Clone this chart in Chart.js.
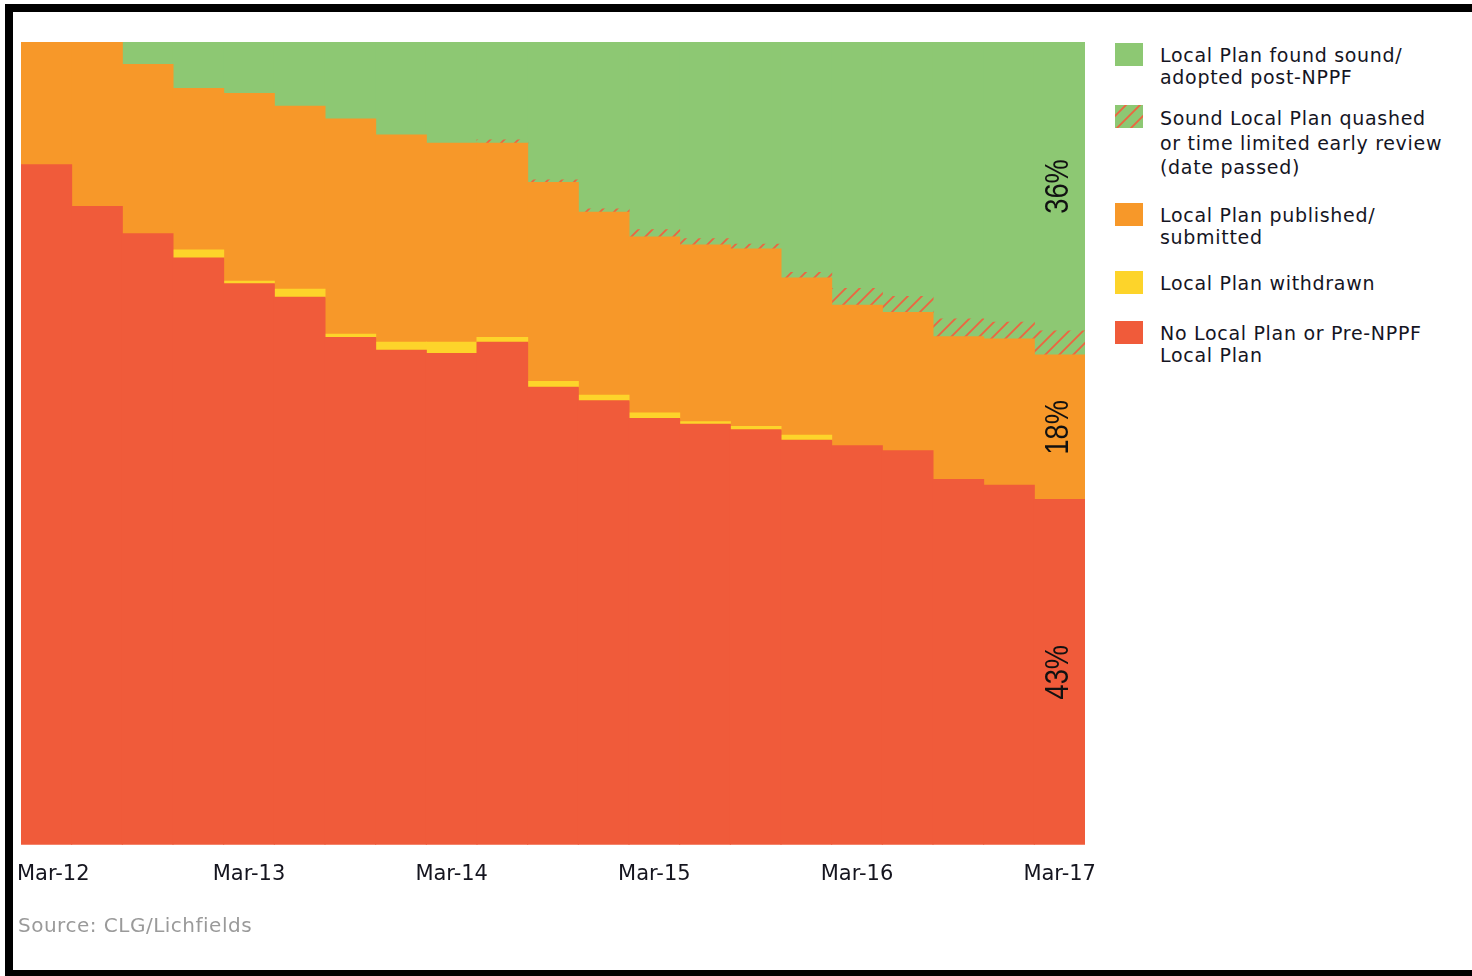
<!DOCTYPE html>
<html>
<head>
<meta charset="utf-8">
<script src="https://cdn.jsdelivr.net/npm/chart.js@4.4.1/dist/chart.umd.min.js"></script>
<style>
  html, body { margin: 0; padding: 0; background: #fff; width: 1472px; height: 976px; overflow: hidden; }
  #frame { position: absolute; left: 5px; top: 4px; width: 1500px; height: 974px; box-sizing: border-box;
           border: 8px solid #000; border-right: none; }
  #wrap { position: absolute; left: 0; top: 0; width: 1100px; height: 918px; }
  #legend { position: absolute; left: 1115px; top: 0; font-family: 'DejaVu Sans', sans-serif; font-size: 19px;
            letter-spacing: 0.7px; color: #15151f; }
  .item { position: absolute; left: 0; white-space: nowrap; }
  .sw { position: absolute; left: 0; top: 0; width: 28px; height: 23px; }
  .txt { position: absolute; left: 45px; top: 1px; line-height: 22px; }
  #source { position: absolute; left: 18px; top: 913px; font-family: 'DejaVu Sans', sans-serif; font-size: 20px;
            letter-spacing: 0.5px; color: #9a9a9a; }
</style>
</head>
<body>
<div id="frame"></div>
<div id="wrap"><canvas id="chart"></canvas></div>
<div id="legend"></div>
<div id="source">Source: CLG/Lichfields</div>
<script>
// Quarterly snapshots, Mar-12 to Mar-17 (share of authorities, %)
const quarters = ["Mar-12","Jun-12","Sep-12","Dec-12","Mar-13","Jun-13","Sep-13","Dec-13","Mar-14","Jun-14","Sep-14",
                  "Dec-14","Mar-15","Jun-15","Sep-15","Dec-15","Mar-16","Jun-16","Sep-16","Dec-16","Mar-17"];
const noPlan    = [84.7,79.5,76.1,73.1,69.9,68.2,63.2,61.6,61.2,62.6,57.0,55.3,53.1,52.4,51.7,50.4,49.7,49.1,45.5,44.8,43];
const withdrawn = [null,null,null,1.0,0.3,1.0,0.4,1.0,1.4,0.6,0.7,0.7,0.7,0.3,0.4,0.6,null,null,null,null,null];
const published = [15.3,20.5,21.1,20.1,23.4,22.8,26.8,25.8,24.8,24.2,24.8,22.8,21.9,22.0,22.1,19.6,17.5,17.2,17.8,18.2,18];
const quashed   = [null,null,null,null,null,null,null,null,null,0.4,0.3,0.4,0.9,0.8,0.6,0.7,2.1,2.0,2.2,2.1,3];
const sound     = [null,null,2.8,5.8,6.4,8.0,9.6,11.6,12.6,12.2,17.2,20.8,23.4,24.5,25.2,28.7,30.7,31.7,34.5,34.9,36];

const seriesNames = [
  ["No Local Plan or Pre-NPPF", "Local Plan"],
  ["Local Plan withdrawn"],
  ["Local Plan published/", "submitted"],
  ["Sound Local Plan quashed", "or time limited early review", "(date passed)"],
  ["Local Plan found sound/", "adopted post-NPPF"]
];

const GREEN = '#8DC873', ORANGE = '#F79829', RED = '#F05B3A', YELLOW = '#FDD42A', HATCH = '#EE6440';
const TICK_FONT = { family: "'DejaVu Sans', sans-serif", size: 21 };

// Diagonal hatch tile: red strokes over the green fill
function hatchTile() {
  const s = 14;
  const c = document.createElement('canvas');
  c.width = s; c.height = s;
  const g = c.getContext('2d');
  g.fillStyle = GREEN; g.fillRect(0, 0, s, s);
  g.strokeStyle = HATCH; g.lineWidth = 1.8; g.lineCap = 'square';
  g.beginPath();
  g.moveTo(0, s); g.lineTo(s, 0);
  g.moveTo(-2, 2); g.lineTo(2, -2);
  g.moveTo(s - 2, s + 2); g.lineTo(s + 2, s - 2);
  g.stroke();
  return c;
}
const tile = hatchTile();
const ctx = document.getElementById('chart').getContext('2d');
const hatchPattern = ctx.createPattern(tile, 'repeat');

const fills = [RED, YELLOW, ORANGE, hatchPattern, GREEN];
const values = [noPlan, withdrawn, published, quashed, sound];
const labelledSeries = [0, 2, 4];

// Legend, top to bottom: green, hatch, orange, yellow, red
const legendTops = [43, 105, 203, 271, 321];
const legendLineHeights = [22, 24.5, 22, 22, 22];
const legend = document.getElementById('legend');
[4, 3, 2, 1, 0].forEach((si, k) => {
  const item = document.createElement('div');
  item.className = 'item';
  item.style.top = legendTops[k] + 'px';
  const sw = document.createElement('div');
  sw.className = 'sw';
  if (si === 3) {
    sw.style.backgroundImage = 'url(' + tile.toDataURL() + ')';
    sw.style.backgroundPosition = '-3px 0';
  } else {
    sw.style.background = fills[si];
  }
  const tx = document.createElement('div');
  tx.className = 'txt';
  tx.style.lineHeight = legendLineHeights[k] + 'px';
  tx.innerHTML = seriesNames[si].join('<br>');
  item.appendChild(sw); item.appendChild(tx);
  legend.appendChild(item);
});

// Rotated share labels on the final column
const shareLabels = {
  id: 'shareLabels',
  afterDatasetsDraw(chart) {
    const c = chart.ctx;
    const last = quarters.length - 1;
    labelledSeries.forEach(i => {
      const el = chart.getDatasetMeta(i).data[last];
      const v = chart.data.datasets[i].data[last];
      c.save();
      c.translate(el.x - 1, (el.y + el.base) / 2);
      c.rotate(-Math.PI / 2);
      c.scale(0.8, 1);
      c.font = '34px "Liberation Sans", Arial, sans-serif';
      c.fillStyle = '#111';
      c.textAlign = 'center';
      c.textBaseline = 'middle';
      c.fillText(Math.round(v) + '%', 0, 0);
      c.restore();
    });
  }
};

// Keep the first axis label clear of the left frame
const firstLabelInset = {
  id: 'firstLabelInset',
  beforeDraw(chart) {
    const items = chart.scales.x.getLabelItems();
    const first = items.find(it => it.label);
    if (!first) return;
    const c = chart.ctx;
    c.save();
    c.font = TICK_FONT.size + 'px ' + TICK_FONT.family;
    const w = c.measureText(first.label).width;
    c.restore();
    const left = first.options.translation[0] - w / 2;
    if (left < 17) first.options.translation[0] += 17 - left;
  }
};

new Chart(ctx, {
  type: 'bar',
  data: {
    labels: quarters,
    datasets: values.map((d, i) => ({
      label: seriesNames[i].join(' '),
      data: d,
      backgroundColor: fills[i],
      borderWidth: 0,
      inflateAmount: 0.5,
      categoryPercentage: 1,
      barPercentage: 1
    }))
  },
  options: {
    responsive: true,
    maintainAspectRatio: false,
    animation: false,
    events: [],
    layout: { padding: { left: 21, right: 15, top: 42, bottom: 14 } },
    plugins: { legend: { display: false }, tooltip: { enabled: false } },
    scales: {
      x: {
        stacked: true,
        grid: { display: false, drawTicks: false },
        border: { display: false },
        ticks: {
          autoSkip: false,
          maxRotation: 0,
          padding: 17,
          color: '#15151f',
          font: TICK_FONT,
          callback: (v, i) => (i % 4 === 0 ? quarters[i] : '')
        },
        afterFit(scale) { scale.paddingLeft = 0; scale.paddingRight = 0; }
      },
      y: {
        stacked: true,
        display: false,
        min: 0,
        max: 100
      }
    }
  },
  plugins: [shareLabels, firstLabelInset]
});
</script>
</body>
</html>
